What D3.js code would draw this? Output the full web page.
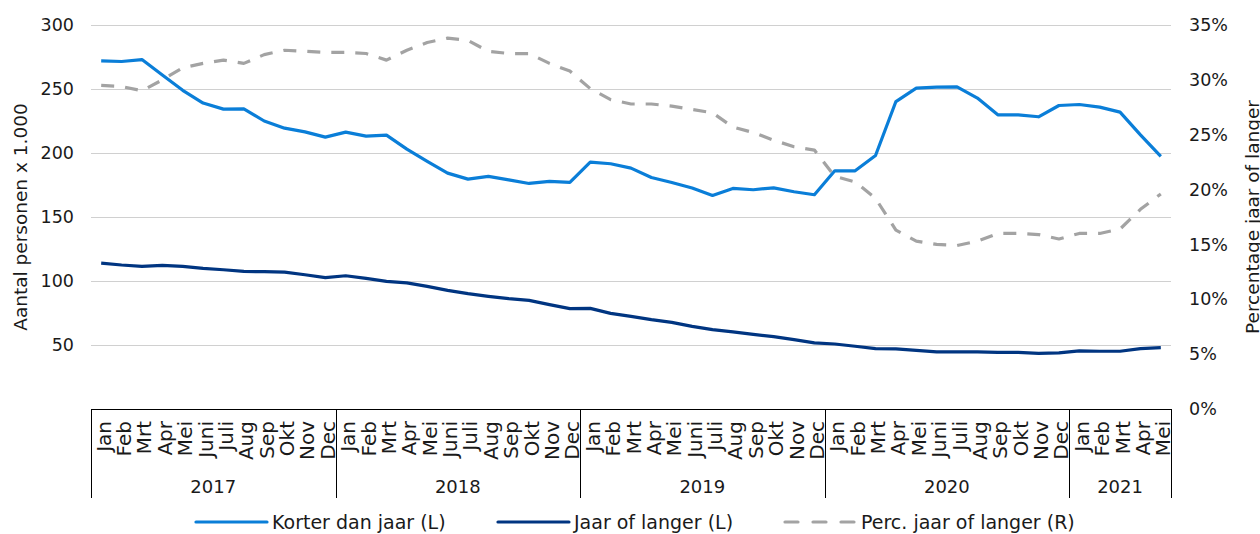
<!doctype html>
<html lang="nl">
<head>
<meta charset="utf-8">
<script src="https://d3js.org/d3.v7.min.js"></script>
<style>
    body { margin: 0; padding: 0; background: #fff; }
    text { font-family: "DejaVu Sans", Verdana, sans-serif; fill: #1a1a1a; }
    .grid line { stroke: #d0d0d0; stroke-width: 1px; }
</style>
</head>
<body>
<svg id="chart" width="1260" height="534"></svg>
<script>
    // data
    var years = ["2017", "2018", "2019", "2020", "2021"];
    var monthNames = ["Jan", "Feb", "Mrt", "Apr", "Mei", "Juni", "Juli", "Aug", "Sep", "Okt", "Nov", "Dec"];
    var monthsPerYear = [12, 12, 12, 12, 5];

    var korter = [272, 271.5, 273, 261, 249, 239, 234.3, 234.5, 225, 219.4, 216.5, 212.4,
                  216.3, 213.2, 214, 203, 193.5, 184.3, 179.6, 181.7, 179, 176.2, 177.8, 177,
                  192.9, 191.6, 188.2, 180.9, 177, 172.6, 166.8, 172.3, 171.3, 172.8, 169.7, 167.4,
                  186.1, 186.1, 198, 240.2, 250.7, 251.4, 251.7, 242.9, 229.8, 229.8, 228.3, 237.1,
                  237.9, 235.8, 231.9, 214.2, 197.3];
    var langer = [114, 112.5, 111.4, 112.2, 111.4, 109.9, 108.8, 107.5, 107.3, 107, 104.9, 102.6,
                  104.1, 102, 99.7, 98.5, 95.8, 92.7, 90.1, 88, 86.2, 84.9, 81.5, 78.4,
                  78.6, 74.7, 72.4, 69.8, 67.7, 64.6, 62, 60.2, 58.3, 56.5, 54.2, 51.6,
                  50.8, 49, 47.2, 46.9, 45.8, 44.6, 44.6, 44.6, 44.3, 44.3, 43.5, 43.8,
                  45.4, 45.1, 45.1, 47.2, 47.9];
    var perc = [29.5, 29.4, 29.0, 30.0, 31.1, 31.5, 31.8, 31.5, 32.3, 32.7, 32.6, 32.5,
                32.5, 32.4, 31.8, 32.7, 33.4, 33.8, 33.6, 32.6, 32.4, 32.4, 31.5, 30.8,
                29.2, 28.2, 27.8, 27.8, 27.6, 27.3, 27.0, 25.7, 25.2, 24.5, 23.9, 23.6,
                21.2, 20.7, 19.2, 16.3, 15.3, 15.0, 14.9, 15.3, 16.0, 16.0, 15.9, 15.5,
                16.0, 16.0, 16.4, 18.2, 19.6];

    var leftTicks = [50, 100, 150, 200, 250, 300];
    var rightTicks = [0, 5, 10, 15, 20, 25, 30, 35];

    var series = [
        { name: "Korter dan jaar (L)", values: korter, axis: "L", color: "#0a7ed8", dash: null },
        { name: "Jaar of langer (L)", values: langer, axis: "L", color: "#003581", dash: null },
        { name: "Perc. jaar of langer (R)", values: perc, axis: "R", color: "#a3a3a3", dash: "13,11" }
    ];

    // build month list
    var months = [];
    years.forEach(function (y, yi) {
        for (var m = 0; m < monthsPerYear[yi]; m++) {
            months.push({ year: y, label: monthNames[m], idx: months.length });
        }
    });

    var svg = d3.select("#chart");
    var plotLeft = 91, plotRight = 1171, plotTop = 25, plotBottom = 409;

    var x = d3.scaleBand()
        .domain(months.map(function (d) { return d.idx; }))
        .range([plotLeft, plotRight])
        .paddingInner(0).paddingOuter(0);
    var yL = d3.scaleLinear().domain([0, 300]).range([plotBottom, plotTop]);
    var yR = d3.scaleLinear().domain([0, 35]).range([plotBottom, plotTop]);

    // gridlines
    svg.append("g").attr("class", "grid")
        .selectAll("line").data(leftTicks).enter().append("line")
        .attr("x1", plotLeft).attr("x2", plotRight)
        .attr("y1", function (d) { return Math.round(yL(d)) + 0.5; })
        .attr("y2", function (d) { return Math.round(yL(d)) + 0.5; });

    // left axis
    var axL = svg.append("g")
        .attr("transform", "translate(" + (plotLeft - 17) + ",0)")
        .call(d3.axisLeft(yL).tickValues(leftTicks).tickSize(0).tickPadding(0));
    axL.select(".domain").remove();
    axL.selectAll("text").style("font-size", "17.5px")
        .style("font-family", "DejaVu Sans, Verdana, sans-serif").attr("fill", "#1a1a1a");

    // right axis
    var axR = svg.append("g")
        .attr("transform", "translate(" + (plotRight + 18) + ",0)")
        .call(d3.axisRight(yR).tickValues(rightTicks).tickSize(0).tickPadding(0)
            .tickFormat(function (d) { return d + "%"; }));
    axR.select(".domain").remove();
    axR.selectAll("text").style("font-size", "17.5px")
        .style("font-family", "DejaVu Sans, Verdana, sans-serif").attr("fill", "#1a1a1a");

    // axis titles
    svg.append("text")
        .attr("transform", "translate(27," + ((plotTop + plotBottom) / 2) + ") rotate(-90)")
        .attr("text-anchor", "middle").style("font-size", "18.5px")
        .text("Aantal personen x 1.000");
    svg.append("text")
        .attr("transform", "translate(1259," + ((plotTop + plotBottom) / 2) + ") rotate(-90)")
        .attr("text-anchor", "middle").style("font-size", "18.5px")
        .text("Percentage jaar of langer");

    // category axis
    var cat = svg.append("g");
    cat.append("line")
        .attr("x1", plotLeft).attr("x2", plotRight)
        .attr("y1", plotBottom + 0.5).attr("y2", plotBottom + 0.5)
        .attr("stroke", "#000").attr("stroke-width", 1);

    cat.selectAll("text.month").data(months).enter().append("text")
        .attr("class", "month")
        .attr("transform", function (d) {
            return "translate(" + (x(d.idx) + x.bandwidth() / 2 + 9.5) + "," + (plotBottom + 12) + ") rotate(-90)";
        })
        .attr("text-anchor", "end")
        .style("font-size", "20px")
        .text(function (d) { return d.label; });

    var bounds = [0];
    monthsPerYear.forEach(function (n, i) { bounds.push(bounds[i] + n); });
    cat.selectAll("line.sep").data(bounds).enter().append("line")
        .attr("class", "sep")
        .attr("x1", function (d) { return Math.round(d < months.length ? x(d) : plotRight) + 0.5; })
        .attr("x2", function (d) { return Math.round(d < months.length ? x(d) : plotRight) + 0.5; })
        .attr("y1", plotBottom).attr("y2", 498)
        .attr("stroke", "#000").attr("stroke-width", 1);

    cat.selectAll("text.year").data(years).enter().append("text")
        .attr("class", "year")
        .attr("x", function (d, i) {
            var a = x(bounds[i]);
            var b = bounds[i + 1] < months.length ? x(bounds[i + 1]) : plotRight;
            return (a + b) / 2;
        })
        .attr("y", 493)
        .attr("text-anchor", "middle")
        .style("font-size", "18px")
        .text(function (d) { return d; });

    // lines
    series.forEach(function (s) {
        var ys = s.axis === "L" ? yL : yR;
        var line = d3.line()
            .x(function (d, i) { return x(i) + x.bandwidth() / 2; })
            .y(function (d) { return ys(d); });
        svg.append("path")
            .datum(s.values)
            .attr("d", line)
            .attr("fill", "none")
            .attr("stroke", s.color)
            .attr("stroke-width", 3.2)
            .attr("stroke-linejoin", "round")
            .attr("stroke-dasharray", s.dash);
    });

    // legend
    var legendX = [196, 498, 785];
    var lg = svg.append("g");
    series.forEach(function (s, i) {
        lg.append("line")
            .attr("x1", legendX[i]).attr("x2", legendX[i] + 71)
            .attr("y1", 522).attr("y2", 522)
            .attr("stroke", s.color).attr("stroke-width", 3.2)
            .attr("stroke-linecap", "round")
            .attr("stroke-dasharray", s.dash ? "13,15" : null);
        lg.append("text")
            .attr("x", legendX[i] + 76).attr("y", 529)
            .style("font-size", "19px")
            .text(s.name);
    });
</script>
</body>
</html>
